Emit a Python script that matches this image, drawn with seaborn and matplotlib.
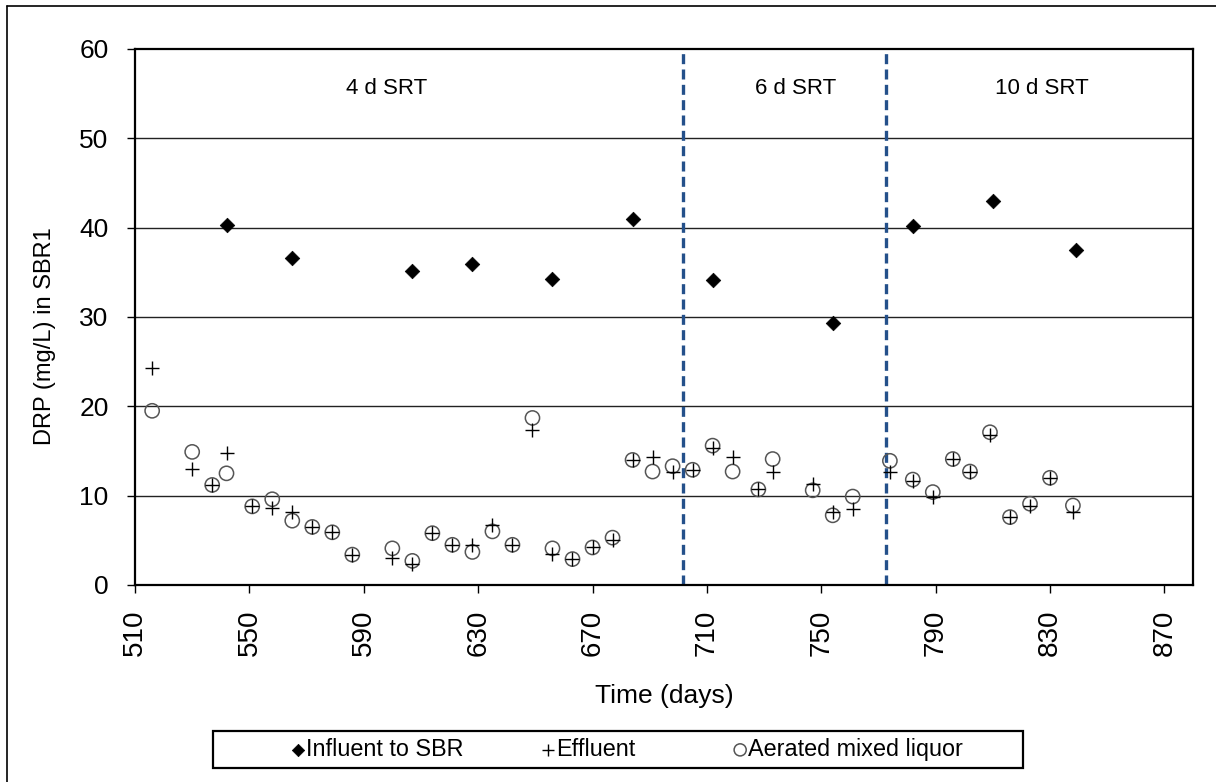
import matplotlib
matplotlib.use("Agg")
import matplotlib.pyplot as plt
from matplotlib.lines import Line2D
from matplotlib.patches import Rectangle
import seaborn as sns
import pandas as pd

# Sampling days for effluent and aerated mixed liquor
sample_days = [516, 530, 537, 542, 551, 558, 565, 572, 579, 586, 600, 607, 614, 621,
               628, 635, 642, 649, 656, 663, 670, 677, 684, 691, 698, 705, 712, 719,
               728, 733, 747, 754, 761, 774, 782, 789, 796, 802, 809, 816, 823, 830, 838]
effluent = [24.3, 13.0, 11.2, 14.8, 8.8, 8.6, 8.2, 6.5, 5.9, 3.4, 3.0, 2.4, 5.8, 4.5,
            4.5, 6.7, 4.5, 17.4, 3.5, 2.9, 4.2, 5.0, 14.0, 14.3, 12.7, 12.9, 15.3, 14.3,
            10.7, 12.7, 11.3, 8.2, 8.5, 12.6, 11.6, 9.9, 14.1, 12.7, 16.8, 7.6, 8.8, 12.0, 8.2]
mixed_liquor = [19.5, 14.9, 11.2, 12.5, 8.8, 9.6, 7.2, 6.5, 5.9, 3.4, 4.1, 2.7, 5.8, 4.5,
                3.7, 6.0, 4.5, 18.7, 4.1, 2.9, 4.2, 5.3, 14.0, 12.7, 13.3, 12.9, 15.6, 12.7,
                10.7, 14.1, 10.6, 7.8, 9.9, 13.9, 11.8, 10.4, 14.1, 12.7, 17.1, 7.6, 9.1, 12.0, 8.9]

# Influent sampling
influent_days = [542, 565, 607, 628, 656, 684, 712, 754, 782, 810, 839]
influent = [40.3, 36.6, 35.1, 35.9, 34.2, 41.0, 34.1, 29.3, 40.2, 43.0, 37.5]

# SRT periods
srt_changes = [701.5, 772.5]
srt_labels = ["4 d SRT", "6 d SRT", "10 d SRT"]
srt_label_x = [598, 741, 827]

x_ticks = list(range(510, 871, 40))
y_ticks = list(range(0, 61, 10))

sns.set_theme(style="white")
plt.rcParams["font.family"] = ["Liberation Sans", "DejaVu Sans"]
plt.rcParams["text.color"] = "black"
plt.rcParams["axes.labelcolor"] = "black"
plt.rcParams["xtick.color"] = "black"
plt.rcParams["ytick.color"] = "black"

fig = plt.figure(figsize=(12.16, 7.82), dpi=100)
ax = fig.add_axes([135 / 1216, 1 - 585 / 782, (1193 - 135) / 1216, (585 - 49) / 782])

df_samples = pd.DataFrame({"day": sample_days, "eff": effluent, "ml": mixed_liquor})
df_inf = pd.DataFrame({"day": influent_days, "inf": influent})

for y in y_ticks[1:-1]:
    ax.axhline(y, color="#222222", lw=1.0, zorder=1)

for xc in srt_changes:
    ax.axvline(xc, color="#24508a", lw=2.4, ls=(0, (3, 1.6)), zorder=2)

sns.scatterplot(data=df_inf, x="day", y="inf", marker="D", color="black", s=55,
                edgecolor="black", linewidth=0.5, ax=ax, label="Influent to SBR", zorder=4)
sns.scatterplot(data=df_samples, x="day", y="eff", marker="+", color="black", s=110,
                linewidth=1.0, ax=ax, label="Effluent", zorder=4)
sns.scatterplot(data=df_samples, x="day", y="ml", marker="o", color="#555555",
                facecolor="none", edgecolor="#555555", s=105, linewidth=1.1, ax=ax,
                label="Aerated mixed liquor", zorder=3)

for lbl, lx in zip(srt_labels, srt_label_x):
    ax.text(lx, 55.6, lbl, ha="center", va="center", fontsize=16, color="black")

ax.set_xlim(510, 880)
ax.set_ylim(0, 60)
ax.set_xticks(x_ticks)
ax.set_yticks(y_ticks)
ax.tick_params(axis="both", direction="out", length=6, width=1.0, color="black",
               labelcolor="black", bottom=True, left=True)
ax.tick_params(axis="y", labelsize=19, pad=13)
ax.tick_params(axis="x", labelsize=20, labelrotation=90, pad=12)
for s in ax.spines.values():
    s.set_color("black")
    s.set_linewidth(1.6)
    s.set_visible(True)

ax.set_xlabel("Time (days)", fontsize=19)
ax.set_ylabel("DRP (mg/L) in SBR1", fontsize=17)
ax.xaxis.set_label_coords(0.5, (585 - 684) / 536)
ax.yaxis.set_label_coords((56 - 135) / 1058, (585 - 336) / 536)

# legend: one entry per slot inside a shared frame
handles, labels = ax.get_legend_handles_labels()
ax.get_legend().remove()
entry_left_px = [290, 540, 732]
for h, l, xl in zip(handles, labels, entry_left_px):
    fig.legend([h], [l], loc="center left", bbox_to_anchor=(xl / 1216, 1 - 749.5 / 782),
               frameon=False, fontsize=16.8, handletextpad=0.0, borderpad=0.0,
               borderaxespad=0.0, handlelength=0.7, markerscale=0.85)
fig.add_artist(Rectangle((213 / 1216, 1 - 768 / 782), 810 / 1216, 37 / 782,
                         transform=fig.transFigure, fill=False, ec="black", lw=1.6))

# outer frame around the chart
fig.add_artist(Line2D([7 / 1216, 7 / 1216], [0, 1 - 6 / 782], transform=fig.transFigure,
                      color="black", lw=1.2))
fig.add_artist(Line2D([7 / 1216, 1], [1 - 6 / 782, 1 - 6 / 782], transform=fig.transFigure,
                      color="black", lw=1.2))

fig.savefig("out.png", dpi=100, facecolor="white")
